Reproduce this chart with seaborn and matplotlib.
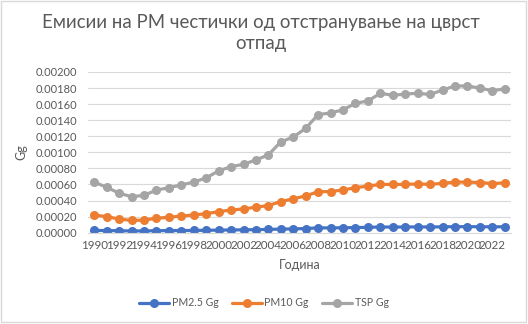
import numpy as np
import pandas as pd
import matplotlib
matplotlib.use("Agg")
import matplotlib.pyplot as plt
from matplotlib.patches import Rectangle
import seaborn as sns

years = list(range(1990, 2024))
pm25 = [0.000028, 0.000027, 0.000024, 0.000022, 0.000022, 0.000025, 0.000026, 0.000027,
        0.000028, 0.000030, 0.000032, 0.000034, 0.000036, 0.000038, 0.000041, 0.000045,
        0.000047, 0.000052, 0.000060, 0.000060, 0.000061, 0.000064, 0.000067, 0.000071,
        0.000070, 0.000071, 0.000072, 0.000071, 0.000073, 0.000075, 0.000075, 0.000074,
        0.000073, 0.000074]
pm10 = [0.000220, 0.000200, 0.000170, 0.000152, 0.000157, 0.000180, 0.000192, 0.000208,
        0.000220, 0.000237, 0.000262, 0.000282, 0.000296, 0.000318, 0.000338, 0.000388,
        0.000422, 0.000458, 0.000510, 0.000512, 0.000532, 0.000560, 0.000580, 0.000602,
        0.000600, 0.000602, 0.000606, 0.000602, 0.000614, 0.000630, 0.000630, 0.000624,
        0.000612, 0.000620]
tsp = [0.000630, 0.000565, 0.000492, 0.000448, 0.000465, 0.000530, 0.000560, 0.000594,
       0.000630, 0.000682, 0.000770, 0.000822, 0.000852, 0.000905, 0.000970, 0.001130,
       0.001190, 0.001300, 0.001470, 0.001490, 0.001530, 0.001610, 0.001640, 0.001735,
       0.001710, 0.001726, 0.001735, 0.001720, 0.001776, 0.001826, 0.001826, 0.001800,
       0.001767, 0.001790]
series_names = ["PM2.5 Gg", "PM10 Gg", "TSP Gg"]
colors = ["#4472C4", "#ED7D31", "#A5A5A5"]
title = "Емисии на РМ честички од отстранување на цврст\nотпад"
xlabel = "Година"
ylabel = "Gg"

df = pd.DataFrame({
    "year": years * 3,
    "value": pm25 + pm10 + tsp,
    "series": [series_names[0]] * len(years) + [series_names[1]] * len(years) + [series_names[2]] * len(years),
})

sns.set_theme(style="white")
plt.rcParams["font.family"] = ["Lato", "DejaVu Sans"]

fig = plt.figure(figsize=(5.28, 3.24), dpi=100)
ax = fig.add_axes([88 / 528, 1 - 232.7 / 324, 423 / 528, 160.7 / 324])

sns.lineplot(data=df, x="year", y="value", hue="series", palette=colors,
             marker="o", markersize=6.5, markeredgewidth=0, linewidth=2.3,
             ax=ax, legend=True)

ax.set_xlim(1989.5, 2023.5)
ax.set_ylim(0, 0.002)
ax.set_yticks(np.arange(0, 0.00201, 0.0002))
ax.set_yticklabels([f"{v:.5f}" for v in np.arange(0, 0.00201, 0.0002)])
ax.set_xticks(list(range(1990, 2023, 2)))
ax.set_xticklabels([str(y) for y in range(1990, 2023, 2)])
ax.tick_params(axis="both", length=0, colors="#595959")
ax.tick_params(axis="y", pad=7.5, labelsize=8)
ax.tick_params(axis="x", pad=5, labelsize=8.4)
ax.grid(axis="y", color="#D9D9D9", linewidth=0.8)
ax.set_axisbelow(True)
for s in ["top", "right", "left"]:
    ax.spines[s].set_visible(False)
ax.spines["bottom"].set_color("#D9D9D9")
ax.spines["bottom"].set_linewidth(0.8)

ax.set_xlabel(xlabel, fontsize=9, color="#595959", labelpad=6)
ax.set_ylabel(ylabel, fontsize=9, color="#595959", labelpad=6)

fig.text(0.495, 1 - 33 / 324, title, ha="center", va="center", fontsize=13.4,
         color="#595959", linespacing=1.3)

handles, labels = ax.get_legend_handles_labels()
ax.legend(handles, labels, loc="center", bbox_to_anchor=(0.5, 1 - 303 / 324),
          bbox_transform=fig.transFigure, ncol=3, frameon=False, fontsize=7.6,
          labelcolor="#595959", handlelength=2.8, columnspacing=1.3, handletextpad=0.25)

fig.patches.append(Rectangle((1 / 528, 1 - 322 / 324), 525 / 528, 321 / 324,
                             transform=fig.transFigure, fill=False,
                             edgecolor="#D9D9D9", linewidth=1))

fig.savefig("out.png", dpi=100, facecolor="white")
